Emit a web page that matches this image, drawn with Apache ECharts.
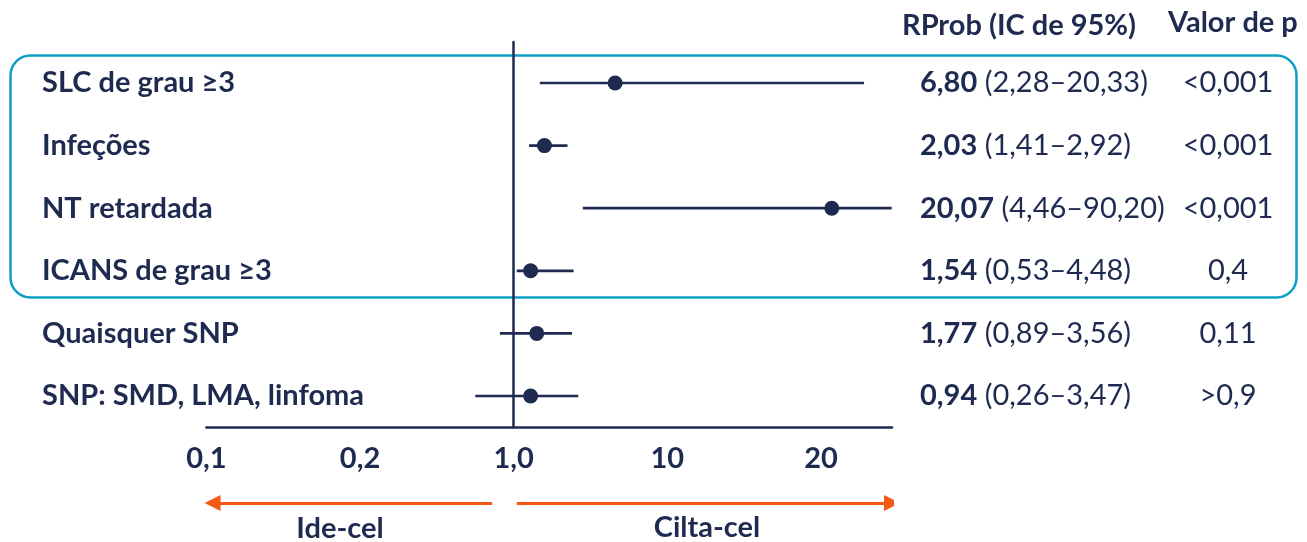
<!DOCTYPE html>
<html>
<head>
<meta charset="utf-8">
<script src="https://cdn.jsdelivr.net/npm/echarts@6/dist/echarts.min.js"></script>
<style>html,body{margin:0;padding:0;background:#fff}#c{width:1307px;height:542px}</style>
</head>
<body>
<div id="c"></div>
<script>
// Rows (top to bottom)
var categories = ['SLC de grau ≥3', 'Infeções', 'NT retardada', 'ICANS de grau ≥3', 'Quaisquer SNP', 'SNP: SMD, LMA, linfoma'];
// Printed odds ratios, CIs and p values
var orText = ['6,80', '2,03', '20,07', '1,54', '1,77', '0,94'];
var ciText = ['(2,28–20,33)', '(1,41–2,92)', '(4,46–90,20)', '(0,53–4,48)', '(0,89–3,56)', '(0,26–3,47)'];
var pText = ['<0,001', '<0,001', '<0,001', '0,4', '0,11', '>0,9'];
// Schematic axis: tick k (−2..2) carries these labels; 0 is the "1,0" line
var tickValues = [-2, -1, 0, 1, 2];
var tickLabels = ['0,1', '0,2', '1,0', '10', '20'];
// Marker positions, in schematic-axis units
var ptPos = [0.66, 0.20, 2.07, 0.11, 0.15, 0.11];
var loPos = [0.17, 0.10, 0.45, 0.02, -0.09, -0.25];
var hiPos = [2.28, 0.35, 2.46, 0.39, 0.38, 0.42];
// Direction arrows (schematic-axis units): [from, to]
var arrowIde = [-0.14, -1.96];
var arrowCilta = [0.02, 2.462];
var arrowNames = ['Ide-cel', 'Cilta-cel'];

var NAVY = '#1f2a50';
var TEAL = '#109fc4';
var ORANGE = '#f45a16';
var FONT = 'Lato';
var FS = 29;

var rowIdx = categories.map(function (_, i) { return i; });
var ciData = rowIdx.map(function (i) { return [i, loPos[i], hiPos[i]]; });
var ptData = rowIdx.map(function (i) { return [ptPos[i], i]; });

var chart = echarts.init(document.getElementById('c'));
var yBase = { type: 'value', inverse: true, min: -0.655, max: 5.5, splitLine: { show: false }, axisTick: { show: false } };
var boldText = { fontFamily: FONT, fontWeight: 'bold', fontSize: FS, color: NAVY };

chart.setOption({
  animation: false,
  textStyle: { fontFamily: FONT },
  title: [
    { text: 'RProb (IC de 95%)', left: 902, top: 11, padding: 0, textStyle: boldText },
    { text: 'Valor de p', left: 1168, top: 8, padding: 0, textStyle: boldText },
    { text: arrowNames[0], left: 340, textAlign: 'center', top: 514, padding: 0, textStyle: boldText },
    { text: arrowNames[1], left: 707, textAlign: 'center', top: 513, padding: 0, textStyle: boldText }
  ],
  graphic: [{
    type: 'rect', left: 8, top: 53, z: -1,
    shape: { width: 1286, height: 242, r: 20 },
    style: { fill: 'none', stroke: TEAL, lineWidth: 2.5 }
  }],
  grid: [
    { left: 206.4, right: 415, top: 42, bottom: 114.7, containLabel: false, outerBoundsMode: 'none' },
    { left: 206.4, right: 415, top: 490, height: 26, containLabel: false, outerBoundsMode: 'none' }
  ],
  xAxis: [{
    type: 'value', gridIndex: 0, min: -2, max: 2.462,
    axisLine: { onZero: false, lineStyle: { color: NAVY, width: 2.5 } },
    axisTick: { show: false }, splitLine: { show: false },
    axisLabel: {
      customValues: tickValues, margin: 17, fontSize: FS, fontWeight: 'bold', color: NAVY, fontFamily: FONT,
      formatter: function (v) { var k = tickValues.indexOf(Math.round(v)); return k >= 0 ? tickLabels[k] : ''; }
    }
  }, {
    type: 'value', gridIndex: 1, min: -2, max: 2.462, show: false
  }],
  yAxis: [
    Object.assign({}, yBase, {
      gridIndex: 0,
      axisLine: { show: true, onZero: true, lineStyle: { color: NAVY, width: 2.5 } },
      axisLabel: {
        customValues: rowIdx, align: 'left', margin: 164.4, fontSize: FS, fontWeight: 'bold', color: NAVY, fontFamily: FONT,
        formatter: function (v) { return categories[v] || ''; }
      }
    }),
    Object.assign({}, yBase, {
      gridIndex: 0, position: 'right', offset: 0,
      axisLine: { show: false },
      axisLabel: {
        customValues: rowIdx, align: 'left', margin: 28, fontSize: FS, color: NAVY, fontFamily: FONT,
        formatter: function (v) { return '{b|' + orText[v] + '} ' + ciText[v]; },
        rich: { b: { fontWeight: 'bold', fontSize: FS, color: NAVY, fontFamily: FONT } }
      }
    }),
    Object.assign({}, yBase, {
      gridIndex: 0, position: 'right', offset: 336,
      axisLine: { show: false },
      axisLabel: {
        customValues: rowIdx, align: 'center', margin: 0, fontSize: FS, color: NAVY, fontFamily: FONT,
        formatter: function (v) { return pText[v]; }
      }
    }),
    { type: 'value', gridIndex: 1, min: 0, max: 1, show: false }
  ],
  series: [
    {
      type: 'custom', xAxisIndex: 0, yAxisIndex: 0, clip: false,
      encode: { x: [1, 2], y: 0 },
      data: ciData,
      renderItem: function (params, api) {
        var a = api.coord([api.value(1), api.value(0)]);
        var b = api.coord([api.value(2), api.value(0)]);
        return { type: 'line', shape: { x1: a[0], y1: a[1], x2: b[0], y2: b[1] }, style: { stroke: NAVY, lineWidth: 2.7 } };
      }
    },
    {
      type: 'scatter', xAxisIndex: 0, yAxisIndex: 0, clip: false,
      symbol: 'circle', symbolSize: 15,
      itemStyle: { color: NAVY, opacity: 1 },
      data: ptData, z: 3
    },
    {
      type: 'lines', coordinateSystem: 'cartesian2d', xAxisIndex: 1, yAxisIndex: 3,
      symbol: ['none', 'triangle'], symbolSize: [15, 16],
      lineStyle: { color: ORANGE, width: 3, opacity: 1 },
      data: [
        { coords: [[arrowIde[0], 0.5], [arrowIde[1], 0.5]] },
        { coords: [[arrowCilta[0], 0.5], [arrowCilta[1], 0.5]] }
      ]
    }
  ]
});
</script>
</body>
</html>
